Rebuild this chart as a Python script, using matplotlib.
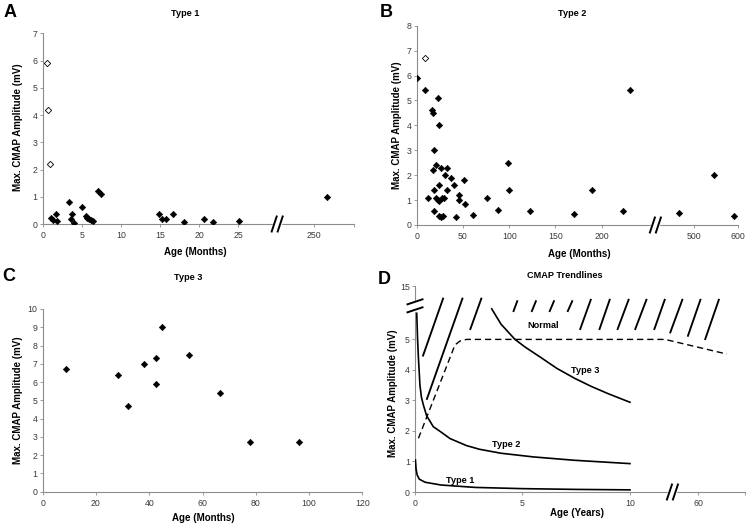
import numpy as np
import matplotlib
matplotlib.use('Agg')
import matplotlib.pyplot as plt

plt.rcParams['font.family'] = ['Liberation Sans', 'DejaVu Sans']

# ---------------- Data ----------------
# Panel A: Type 1 (age in months, max CMAP amplitude in mV)
a_open_age = [0.55, 0.72, 0.94]
a_open_amp = [5.9, 4.2, 2.2]
a_age = [1.0, 1.35, 1.7, 1.8, 3.3, 3.6, 3.8, 4.0, 5.0, 5.5, 5.7, 5.95, 6.15, 6.4,
         7.05, 7.4, 14.8, 15.2, 15.7, 16.6, 18.0, 20.6, 21.8, 25.1, 266]
a_amp = [0.22, 0.15, 0.35, 0.12, 0.82, 0.2, 0.35, 0.05, 0.63, 0.29, 0.22, 0.18, 0.15, 0.1,
         1.2, 1.1, 0.35, 0.18, 0.2, 0.37, 0.07, 0.2, 0.07, 0.1, 1.0]

# Panel B: Type 2
b_open_age = [8.5]
b_open_amp = [6.7]
b_age = [0, 9, 23, 16.5, 17.6, 24.5, 19, 20.5, 17.3, 26.3, 33, 31, 37.5, 51, 40.4,
         24.3, 19, 32.4, 45.8, 45.8, 12, 21, 23.4, 24.5, 27, 29.5, 52.5, 18.8, 24.5,
         26.5, 28.5, 42.5, 60.5, 76, 88.3, 99, 99.8, 123, 169.7, 190, 223, 231,
         464, 546, 592]
b_amp = [5.9, 5.4, 5.1, 4.6, 4.5, 4.0, 3.0, 2.4, 2.2, 2.3, 2.3, 2.0, 1.9, 1.8, 1.6,
         1.6, 1.4, 1.4, 1.2, 1.0, 1.1, 1.1, 1.0, 0.95, 1.1, 1.1, 0.85, 0.55, 0.35,
         0.32, 0.38, 0.33, 0.42, 1.1, 0.6, 2.5, 1.4, 0.57, 0.45, 1.4, 0.55, 5.4,
         0.49, 2.0, 0.37]

# Panel C: Type 3
c_age = [8.8, 28.4, 32.0, 38.0, 42.5, 42.4, 44.8, 54.8, 66.6, 78, 96.2]
c_amp = [6.7, 6.4, 4.7, 7.0, 7.3, 5.9, 9.0, 7.5, 5.4, 2.7, 2.7]

# Panel D: CMAP trendlines (age in years)
d_t1_x = [0.02, 0.05, 0.1, 0.2, 0.47, 1.2, 2.8, 5.0, 7.5, 10]
d_t1_y = [1.05, 0.75, 0.56, 0.42, 0.32, 0.23, 0.15, 0.11, 0.085, 0.07]
d_t2_x = [0.08, 0.12, 0.16, 0.23, 0.3, 0.39, 0.54, 0.85, 1.24, 1.63, 2.4, 3.0, 4.0, 5.5, 7.4, 10]
d_t2_y = [5.86, 5.0, 4.38, 3.5, 3.1, 2.85, 2.5, 2.14, 1.95, 1.75, 1.52, 1.4, 1.27, 1.15, 1.04, 0.93]
d_t3_x = [3.57, 4.0, 4.65, 5.12, 5.89, 6.6, 7.44, 8.2, 8.99, 10]
d_t3_y = [6.0, 5.5, 5.0, 4.75, 4.39, 4.05, 3.72, 3.46, 3.22, 2.94]
d_norm_x = [0.16, 1.0, 1.86, 2.1, 2.4, 11.63, 72.2]
d_norm_y = [1.76, 3.27, 4.82, 4.95, 5.0, 5.0, 4.52]
d_hatch_x0 = [0.36, 0.54, 2.56, 4.57, 5.42, 6.25, 7.09, 7.67, 8.57, 9.41, 10.23, 11.12, 11.86, 55.4, 62.8]
d_hatch_y0 = [4.44, 3.02, 5.31, 5.9, 5.9, 5.9, 5.9, 5.31, 5.31, 5.31, 5.31, 5.31, 5.2, 5.09, 4.98]
d_hatch_x1 = [1.32, 2.22, 3.10, 4.77, 5.64, 6.48, 7.33, 8.19, 9.07, 9.95, 10.78, 11.63, 53.25, 61.0, 68.9]
d_hatch_y1 = [10.1, 10.1, 10.1, 9.0, 9.0, 9.0, 9.0, 9.6, 9.6, 9.6, 9.6, 9.6, 9.6, 9.6, 9.6]
d_labels = ['Normal', 'Type 3', 'Type 2', 'Type 1']
d_label_x = [5.97, 7.91, 4.26, 2.09]
d_label_y = [5.45, 3.99, 1.55, 0.38]

# ---------------- Helpers ----------------
def piecewise(xp, fp):
    xp = np.asarray(xp, float); fp = np.asarray(fp, float)
    s0 = (fp[1] - fp[0]) / (xp[1] - xp[0]); s1 = (fp[-1] - fp[-2]) / (xp[-1] - xp[-2])
    def f(v):
        v = np.asarray(v, float)
        r = np.interp(v, xp, fp)
        r = np.where(v < xp[0], fp[0] + (v - xp[0]) * s0, r)
        r = np.where(v > xp[-1], fp[-1] + (v - xp[-1]) * s1, r)
        return r
    return f

def broken_scale(xp, fp):
    return (piecewise(xp, fp), piecewise(fp, xp))

SPINE = '#8c8c8c'

def style(ax):
    for s in ['top', 'right']:
        ax.spines[s].set_visible(False)
    for s in ['left', 'bottom']:
        ax.spines[s].set_color(SPINE)
        ax.spines[s].set_linewidth(0.8)
    ax.tick_params(direction='out', length=2.2, width=0.6, color=SPINE,
                   labelsize=6.3, labelcolor='#3a3a3a')
    ax.tick_params(axis='x', pad=2.8)
    ax.tick_params(axis='y', pad=1.5)

def labels(ax, xl, xc, yc):
    ax.set_xlabel(xl, fontsize=7.0, fontweight='bold')
    ax.set_ylabel('Max. CMAP Amplitude (mV)', fontsize=7.0, fontweight='bold')
    ax.xaxis.set_label_coords(*xc)
    ax.yaxis.set_label_coords(*yc)
    ax.xaxis.label.set_va('center')
    ax.yaxis.label.set_va('center')
    ax.yaxis.label.set_ha('center')

def axis_break(ax, fx, fy, vertical_axis=False):
    fig = ax.figure
    bb = ax.get_position()
    W = bb.width * fig.get_figwidth() * fig.dpi
    H = bb.height * fig.get_figheight() * fig.dpi
    kw = dict(transform=ax.transAxes, clip_on=False)
    if not vertical_axis:
        sep, dx, dy = 6.0, 5.0, 15.0
        ax.plot([fx - sep / 2 / W, fx + sep / 2 / W], [fy, fy], color='white', lw=2.5, zorder=6, **kw)
        for c in (-sep / 2, sep / 2):
            ax.plot([fx + (c - dx / 2) / W, fx + (c + dx / 2) / W],
                    [fy - dy / 2 / H, fy + dy / 2 / H], color='black', lw=1.4, zorder=7, **kw)
    else:
        sep, dx, dy = 8.0, 15.0, 5.0
        ax.plot([fx, fx], [fy - sep / 2 / H, fy + sep / 2 / H], color='white', lw=2.5, zorder=6, **kw)
        for c in (-sep / 2, sep / 2):
            ax.plot([fx - dx / 2 / W, fx + dx / 2 / W],
                    [fy + (c - dy / 2) / H, fy + (c + dy / 2) / H], color='black', lw=1.4, zorder=7, **kw)

def frac(f, v, lo, hi):
    return float((f(v) - f(lo)) / (f(hi) - f(lo)))

# ---------------- Figure ----------------
fig = plt.figure(figsize=(7.5, 5.26), dpi=100)
FW, FH = 750.0, 526.0

def add_axes(l, t, r, b):
    return fig.add_axes([l / FW, 1 - b / FH, (r - l) / FW, (b - t) / FH])

mk = dict(ls='none', marker='D', ms=3.3, color='black', mec='black', mew=0.4, zorder=4)
mko = dict(ls='none', marker='D', ms=3.2, mfc='white', mec='black', mew=0.6, zorder=4)

# Panel A
axA = add_axes(42.7, 33.3, 354.3, 224)
a_xp, a_fp = [0, 29.9, 204.5, 300], [0, 29.9, 30.0, 39.8]
fA = broken_scale(a_xp, a_fp)
axA.set_xscale('function', functions=fA)
axA.plot(a_age, a_amp, **mk)
axA.plot(a_open_age, a_open_amp, **mko)
axA.set_xlim(0, 300); axA.set_ylim(0, 7)
axA.set_xticks([0, 5, 10, 15, 20, 25, 250, 300])
axA.set_xticklabels(['0', '5', '10', '15', '20', '25', '250', ''])
axA.set_yticks(range(0, 8))
style(axA)
labels(axA, 'Age (Months)', (0.489, -0.145), (-0.079, 0.51))
axis_break(axA, frac(fA[0], (a_xp[1] + a_xp[2]) / 2, 0, 300), 0)

# Panel B
axB = add_axes(416.7, 25.7, 737.7, 225)
b_xp, b_fp = [0, 257.5, 412, 600], [0, 257.5, 258.7, 347.1]
fB = broken_scale(b_xp, b_fp)
axB.set_xscale('function', functions=fB)
axB.plot(b_age, b_amp, **mk)
axB.plot(b_open_age, b_open_amp, **mko)
axB.set_xlim(0, 600); axB.set_ylim(0, 8)
axB.set_xticks([0, 50, 100, 150, 200, 500, 600])
axB.set_xticklabels(['0', '50', '100', '150', '200', '500', '600'])
axB.set_yticks(range(0, 9))
style(axB)
labels(axB, 'Age (Months)', (0.506, -0.146), (-0.062, 0.50))
axis_break(axB, frac(fB[0], (b_xp[1] + b_xp[2]) / 2, 0, 600), 0)

# Panel C
axC = add_axes(42.7, 309, 362.3, 491.7)
axC.plot(c_age, c_amp, **mk)
axC.set_xlim(0, 120); axC.set_ylim(0, 10)
axC.set_xticks(range(0, 121, 20))
axC.set_yticks(range(0, 11))
style(axC)
labels(axC, 'Age (Months)', (0.501, -0.144), (-0.077, 0.50))

# Panel D
axD = add_axes(415, 286, 745, 492)
d_xp, d_fp = [0, 11.95, 49.1, 80], [0, 11.95, 12.0, 15.35]
d_yp, d_fpy = [0, 6.05, 15], [0, 6.05, 6.75]
fDx = broken_scale(d_xp, d_fp)
fDy = broken_scale(d_yp, d_fpy)
axD.set_xscale('function', functions=fDx)
axD.set_yscale('function', functions=fDy)
lw = 1.2
axD.plot(d_t1_x, d_t1_y, color='black', lw=lw, zorder=4)
axD.plot(d_t2_x, d_t2_y, color='black', lw=lw, zorder=4)
axD.plot(d_t3_x, d_t3_y, color='black', lw=lw, zorder=4)
axD.plot(d_norm_x, d_norm_y, color='black', lw=1.0, dashes=(4.5, 2.8), zorder=4)
for x0, y0, x1, y1 in zip(d_hatch_x0, d_hatch_y0, d_hatch_x1, d_hatch_y1):
    axD.plot([x0, x1], [y0, y1], color='black', lw=1.35, solid_capstyle='butt', zorder=4)
for t, x, y in zip(d_labels, d_label_x, d_label_y):
    axD.text(x, y, t, fontsize=6.6, fontweight='bold', ha='center', va='center')
axD.set_xlim(0, 80); axD.set_ylim(0, 15)
axD.set_xticks([0, 5, 10, 60, 80])
axD.set_xticklabels(['0', '5', '10', '60', ''])
axD.set_yticks([0, 1, 2, 3, 4, 5, 15])
style(axD)
labels(axD, 'Age (Years)', (0.49, -0.102), (-0.066, 0.48))
axis_break(axD, frac(fDx[0], (d_xp[1] + d_xp[2]) / 2, 0, 80), 0)
axis_break(axD, 0, frac(fDy[0], 6.7, 0, 15), vertical_axis=True)

# Titles and panel letters
for txt, x, y in [('Type 1', 185, 14), ('Type 2', 571.7, 14), ('Type 3', 188.3, 278),
                  ('CMAP Trendlines', 565, 275.7)]:
    fig.text(x / FW, 1 - y / FH, txt, fontsize=6.6, fontweight='bold', ha='center', va='center')
for txt, x, y in [('A', 10, 12.5), ('B', 386, 12.5), ('C', 9, 276.5), ('D', 384, 279)]:
    fig.text(x / FW, 1 - y / FH, txt, fontsize=13, fontweight='bold', ha='center', va='center')

fig.savefig('out.png', dpi=100, facecolor='white')
